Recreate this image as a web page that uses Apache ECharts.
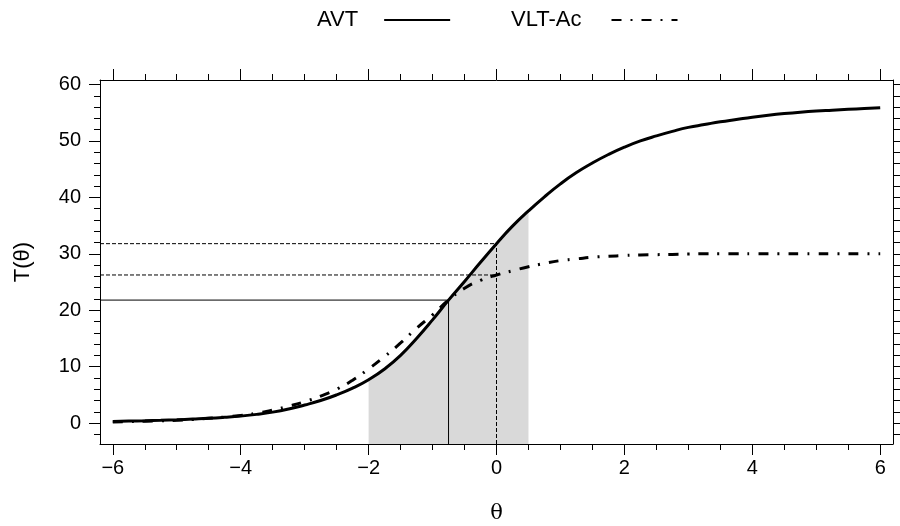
<!DOCTYPE html>
<html>
<head>
<meta charset="utf-8">
<script src="https://cdn.jsdelivr.net/npm/echarts@6/dist/echarts.min.js"></script>
<style>html,body{margin:0;padding:0;background:#fff}#c{width:900px;height:526px}</style>
</head>
<body>
<div id="c"></div>
<script>
// ---- data ----
const theta = [-6,-5.75,-5.5,-5.25,-5,-4.75,-4.5,-4.25,-4,-3.75,-3.5,-3.25,-3,-2.75,-2.5,-2.25,-2,-1.75,-1.5,-1.25,-1,-0.75,-0.5,-0.25,
               0,0.25,0.5,0.75,1,1.25,1.5,1.75,2,2.25,2.5,2.75,3,3.25,3.5,3.75,4,4.25,4.5,4.75,5,5.25,5.5,5.75,6];
const avt   = [0.3,0.36,0.42,0.5,0.6,0.72,0.85,1.03,1.25,1.55,1.95,2.5,3.2,4.0,5.0,6.2,7.7,9.6,12.0,15.0,18.3,21.8,25.1,28.5,
               31.8,34.9,37.6,40.1,42.4,44.4,46.1,47.6,48.9,50.0,50.9,51.7,52.4,52.9,53.4,53.8,54.2,54.55,54.85,55.1,55.3,55.45,55.6,55.75,55.9];
const vlt   = [0.2,0.26,0.32,0.4,0.5,0.65,0.85,1.08,1.35,1.75,2.3,3.0,3.8,4.8,6.0,7.6,9.6,11.8,14.2,16.8,19.2,21.8,23.9,25.3,
               26.25,27.0,27.7,28.3,28.8,29.1,29.4,29.55,29.7,29.8,29.85,29.9,29.95,30.0,30.0,30.0,30.0,30.0,30.0,30.0,30.0,30.0,30.0,30.0,30.0];
const shadeRange = [-2, 0.5];
const refTheta = [-0.75, 0];     // solid, dashed verticals
const refAVT   = [21.8, 31.8];   // AVT value at refTheta
const refVLT   = [26.25];        // VLT value at theta = 0
const xTicks = [-6,-4,-2,0,2,4,6];
const yTicks = [0,10,20,30,40,50,60];
const seriesNames = ['AVT','VLT-Ac'];

// ---- layout constants ----
const XMIN = -6.2, XMAX = 6.2, YMIN = -3.7, YMAX = 60.8;
const FONT = '"Liberation Sans", Arial, sans-serif';
const minus = v => String(v).replace('-', '\u2212');

const xMinor = [], yMinor = [], yRight = [];
for (let v = -6; v <= 6.001; v += 0.5) if (!xTicks.includes(v)) xMinor.push(v);
for (let v = -2; v <= 60; v += 2) { yRight.push(v); if (!yTicks.includes(v)) yMinor.push(v); }

const shadeData = theta.map((t,i)=>[t,avt[i]]).filter(p => p[0] >= shadeRange[0] && p[0] <= shadeRange[1]);

const black = '#000';
function xAx(pos, ticks, len, opts) {
  return Object.assign({
    type:'value', position:pos, min:XMIN, max:XMAX, offset:0,
    axisLine:{show:false, onZero:false}, splitLine:{show:false},
    axisTick:{show:true, inside:false, length:len, customValues:ticks, lineStyle:{color:black,width:1}},
    axisLabel:{show:false}
  }, opts||{});
}
function yAx(pos, ticks, len, opts) {
  return Object.assign({
    type:'value', position:pos, min:YMIN, max:YMAX, offset:0,
    axisLine:{show:false, onZero:false}, splitLine:{show:false},
    axisTick:{show:true, inside:false, length:len, customValues:ticks, lineStyle:{color:black,width:1}},
    axisLabel:{show:false}
  }, opts||{});
}

const chart = echarts.init(document.getElementById('c'), null, {renderer:'canvas'});
const refLine = (type) => ({color:'#000', width:1, type:type});
const legendCommon = {top:4, align:'right', itemWidth:66, itemHeight:16,
  itemStyle:{opacity:0}};
chart.setOption({
  animation:false,
  backgroundColor:'#fff',
  grid:{left:100, right:7, top:80, bottom:82, outerBoundsMode:'none', containLabel:false},
  legend:[
    Object.assign({data:[seriesNames[0]], left:312,
     textStyle:{fontFamily:FONT, fontSize:22, color:'#000', padding:[0,21,0,0]}}, legendCommon),
    Object.assign({data:[seriesNames[1]], left:506,
     textStyle:{fontFamily:FONT, fontSize:22, color:'#000', padding:[0,25,0,0]}}, legendCommon)
  ],
  xAxis:[
    xAx('bottom', xTicks, 11, {
      axisLine:{show:true, onZero:false, lineStyle:{color:black,width:1}},
      axisLabel:{show:true, customValues:xTicks, margin:14, formatter:minus,
        fontFamily:FONT, fontSize:20, color:'#000'},
      name:'\u03b8', nameLocation:'middle', nameGap:59,
      nameTextStyle:{fontFamily:'"DejaVu Serif", "Liberation Serif", serif', fontSize:21, color:'#000'}
    }),
    xAx('bottom', xMinor, 6),
    xAx('top', xTicks, 11, {axisLine:{show:true, onZero:false, lineStyle:{color:black,width:1}}}),
    xAx('top', xMinor, 6)
  ],
  yAxis:[
    yAx('left', yTicks, 11, {
      axisLine:{show:true, onZero:false, lineStyle:{color:black,width:1}},
      axisLabel:{show:true, customValues:yTicks, margin:19, fontFamily:FONT, fontSize:20, color:'#000'},
      name:'T(\u03b8)', nameLocation:'middle', nameGap:66, nameRotate:90,
      nameTextStyle:{fontFamily:FONT, fontSize:22, color:'#000'}
    }),
    yAx('left', yMinor, 6),
    yAx('right', yRight, 7, {axisLine:{show:true, onZero:false, lineStyle:{color:black,width:1}}})
  ],
  series:[
    {name:'shade', type:'line', data:shadeData, smooth:0.5, symbol:'none',
     lineStyle:{width:0, color:'#d9d9d9'}, areaStyle:{color:'#d9d9d9', origin:'start', opacity:1}, z:1, silent:true},
    // horizontal reference lines
    {name:'h1', type:'line', symbol:'none', z:2, lineStyle:refLine('solid'),
     data:[[XMIN, refAVT[0]],[refTheta[0], refAVT[0]]]},
    {name:'h2', type:'line', symbol:'none', z:2, lineStyle:refLine([4,2]),
     data:[[XMIN, refAVT[1]],[refTheta[1], refAVT[1]]]},
    {name:'h3', type:'line', symbol:'none', z:2, lineStyle:refLine([4,2]),
     data:[[XMIN, refVLT[0]],[refTheta[1], refVLT[0]]]},
    // vertical reference lines
    {name:'v1', type:'line', symbol:'none', z:2, lineStyle:refLine('solid'),
     data:[[refTheta[0], YMIN],[refTheta[0], refAVT[0]]]},
    {name:'v2', type:'line', symbol:'none', z:2, lineStyle:refLine([4,2]),
     data:[[refTheta[1], YMIN],[refTheta[1], refAVT[1]]]},
    {name:seriesNames[1], type:'line', data:theta.map((t,i)=>[t,vlt[i]]), smooth:0.5,
     symbol:'none', z:4, itemStyle:{color:'#000'},
     lineStyle:{color:'#000', width:3, type:[10,9,2,9], cap:'butt'}},
    {name:seriesNames[0], type:'line', data:theta.map((t,i)=>[t,avt[i]]), smooth:0.5,
     symbol:'none', z:5, itemStyle:{color:'#000'},
     lineStyle:{color:'#000', width:3, type:'solid'}}
  ]
});
</script>
</body>
</html>
